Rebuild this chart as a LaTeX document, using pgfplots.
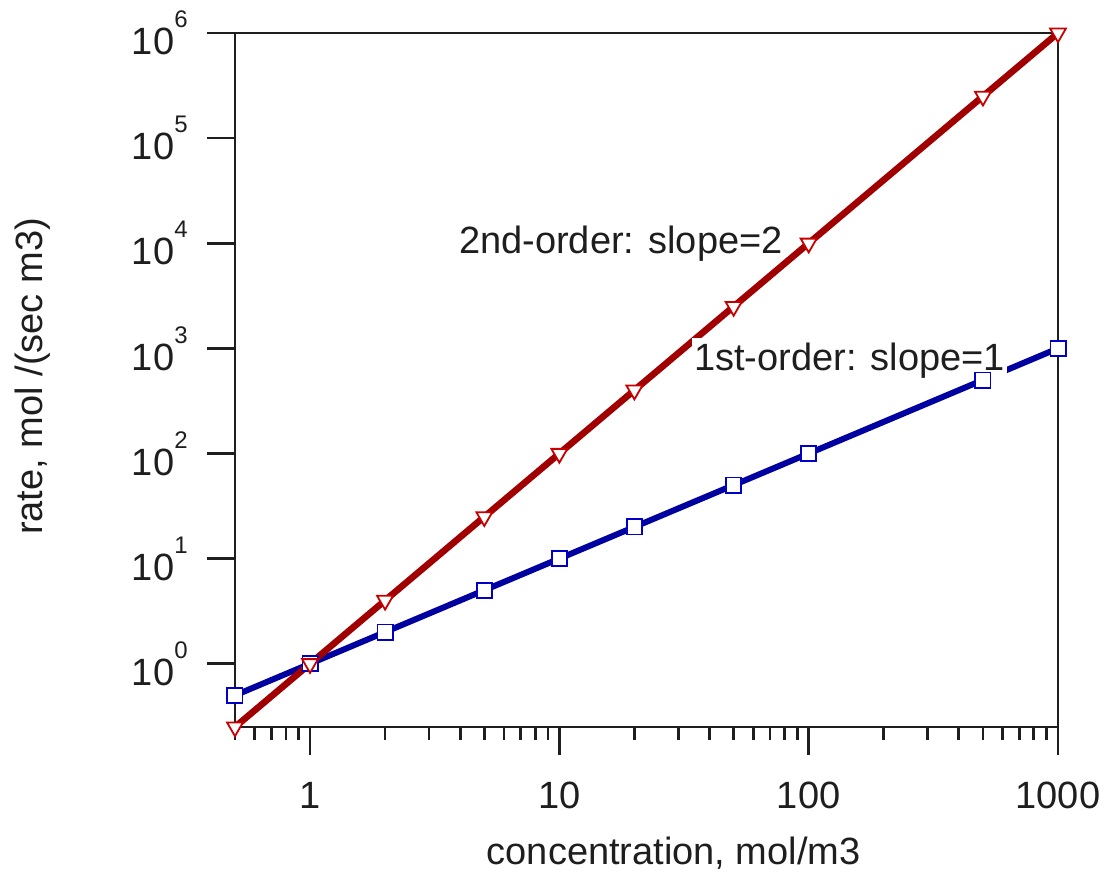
\documentclass[border=0pt]{standalone}
\usepackage{fontspec}
\setmainfont{Liberation Sans}
\usepackage{pgfplots}
\pgfplotsset{compat=1.18}
\usetikzlibrary{calc}
\definecolor{lred}{RGB}{160,0,0}
\definecolor{lblue}{RGB}{0,0,160}
\definecolor{mred}{RGB}{200,0,0}
\definecolor{mblue}{RGB}{0,0,200}
\definecolor{axc}{RGB}{30,30,30}
\newcommand\ex[1]{10\raisebox{13.5pt}{\fontsize{12}{12}\selectfont #1}}
\begin{document}
\begin{tikzpicture}
\begin{axis}[
  scale only axis, width=411.5pt, height=347pt,
  xmode=log, ymode=log,
  xmin=0.5, xmax=1000, ymin=0.25, ymax=1e6,
  axis line style={line width=1.35pt, axc},
  every tick/.style={line width=1.35pt, axc},
  tick align=inside,
  major tick length=-14pt, minor tick length=-6.5pt,
  xtick={1,10,100,1000}, xticklabels={1,10,100,1000},
  minor xtick={0.5,0.6,0.7,0.8,0.9,2,3,4,5,6,7,8,9,20,30,40,50,60,70,80,90,200,300,400,500,600,700,800,900},
  ytick={1,10,100,1000,10000,100000,1000000},
  yticklabels={\ex{0},\ex{1},\ex{2},\ex{3},\ex{4},\ex{5},\ex{6}},
  yminorticks=false,
  xtick pos=bottom, ytick pos=left,
  tick label style={font=\fontsize{19}{22}\selectfont, text=axc, inner sep=0pt},
  xticklabel style={anchor=north, yshift=-27.5pt},
  yticklabel style={anchor=east, xshift=-23.5pt},
  label style={font=\fontsize{19}{22}\selectfont, text=axc},
  xlabel={concentration, mol/m3},
  xlabel style={at={(axis description cs:0.533,-0.1988)}, anchor=base, inner sep=0pt},
  ylabel={rate, mol /(sec m3)},
  ylabel style={at={(axis description cs:-0.2333,0.505)}, anchor=base, inner sep=0pt, rotate=0},
]
% 1st order
\addplot[only marks, mark=square*, mark size=3.8pt, mark options={draw=mblue, fill=white, line width=0.9pt}]
  coordinates {(0.5,0.5) (1,1) (2,2) (5,5) (10,10) (20,20) (50,50) (100,100) (500,500) (1000,1000)};
\addplot[no marks, lblue, line width=3pt]
  coordinates {(0.5,0.5) (1,1) (2,2) (5,5) (10,10) (20,20) (50,50) (100,100) (500,500) (1000,1000)};
% 2nd order
\addplot[only marks, mark=triangle*, mark size=4.6pt, mark options={draw=mred, fill=white, line width=0.9pt, rotate=180}]
  coordinates {(0.5,0.25) (1,1) (2,4) (5,25) (10,100) (20,400) (50,2500) (100,10000) (500,250000) (1000,1000000)};
\addplot[no marks, lred, line width=3.3pt]
  coordinates {(0.5,0.25) (1,1) (2,4) (5,25) (10,100) (20,400) (50,2500) (100,10000) (500,250000) (1000,1000000)};
\node[anchor=base west, inner xsep=1pt, inner ysep=0pt, font=\fontsize{19}{22}\selectfont, text=axc]
  at (axis description cs:0.2694,0.683) {2nd-order: slope=2};
\node[anchor=base west, fill=white, inner xsep=1pt, inner ysep=0pt, text height=16.3pt, text depth=4.6pt, font=\fontsize{19}{22}\selectfont, text=axc]
  at (axis description cs:0.5549,0.5134) {1st-order: slope=1};
\end{axis}
\path[use as bounding box] ($(current axis.south west)+(-117.5pt,-73pt)$) rectangle ($(current axis.north east)+(24pt,16.5pt)$);
\end{tikzpicture}
\end{document}
